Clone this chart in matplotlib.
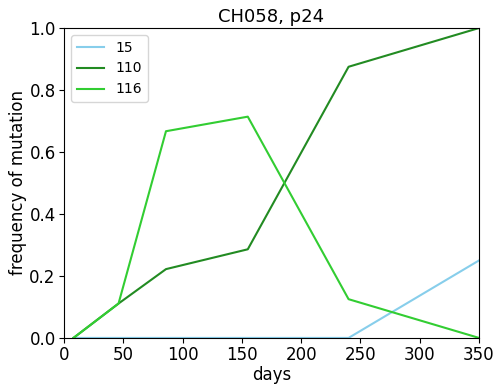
import matplotlib
matplotlib.use("Agg")
import matplotlib.pyplot as plt

days = [8, 46, 86, 155, 240, 350]
freq_15 = [0.0, 0.0, 0.0, 0.0, 0.0, 0.25]
freq_110 = [0.0, 0.111, 0.222, 0.286, 0.875, 1.0]
freq_116 = [0.0, 0.111, 0.667, 0.714, 0.125, 0.0]

fig = plt.figure(figsize=(5, 3.84), dpi=100)
ax = fig.add_axes([0.128, 0.12, 0.83, 0.807])

ax.plot(days, freq_15, color="skyblue", label="15")
ax.plot(days, freq_110, color="forestgreen", label="110")
ax.plot(days, freq_116, color="limegreen", label="116")

ax.set_xlim(0, 350)
ax.set_ylim(0, 1)
ax.tick_params(labelsize=12, pad=2.5)
ax.set_xlabel("days", fontsize=12, labelpad=1)
ax.set_ylabel("frequency of mutation", fontsize=12, labelpad=2)
ax.set_title("CH058, p24", fontsize=13, pad=4)
ax.legend(loc="upper left", fontsize=10)

fig.savefig("out.png")
